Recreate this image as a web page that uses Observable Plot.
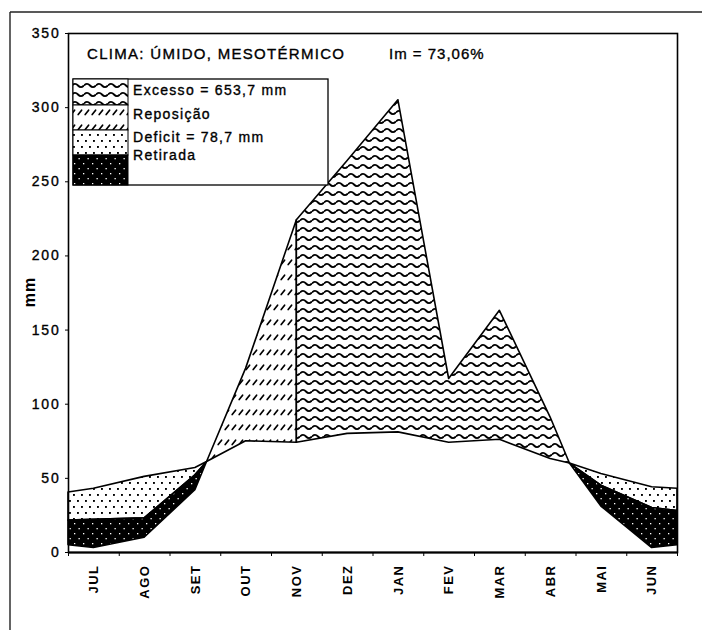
<!DOCTYPE html>
<html>
<head>
<meta charset="utf-8">
<script src="https://cdn.jsdelivr.net/npm/d3@7"></script>
<script src="https://cdn.jsdelivr.net/npm/@observablehq/plot@0.6"></script>
<style>
  body { margin: 0; background: #fff; }
  #chart svg { display: block; }
  #chart text.pesado { stroke: #000; stroke-width: 0.35px; }
</style>
</head>
<body>
<div id="chart"></div>
<script>
// Balanço hídrico climatológico (Thornthwaite & Mather), ano hidrológico JUL–JUN
const meses = ["JUL", "AGO", "SET", "OUT", "NOV", "DEZ", "JAN", "FEV", "MAR", "ABR", "MAI", "JUN"];

// Posição ao longo do ano (em meses desde o início de JUL): bordas, meio de cada mês
// e os dois cruzamentos P = ETP (fim de SET e fim de ABR)
const posicao = [0, 0.5, 1.5, 2.5, 2.73, 3.5, 4.5, 5.5, 6.5, 7.5, 8.5, 9.5, 9.88, 10.5, 11.5, 12];
// Precipitação (mm)
const precipitacao = [5, 3, 10, 42, 61, 124, 224, 264, 305, 117, 163, 91, 60, 31, 3, 5];
// Evapotranspiração potencial (mm)
const etp = [40.5, 43, 51, 57, 61, 75, 74, 80, 81, 74, 76, 63, 60, 53, 44, 43];
// Evapotranspiração real (mm)
const etr = [21.5, 22, 23, 52, 61, 75, 74, 80, 81, 74, 76, 63, 60, 45, 30, 28];

// Limites das fases do balanço, em meses
const cruzaSetOut = 2.73;   // P passa a superar a ETP
const inicioExcesso = 4.5;  // solo na capacidade de campo
const cruzaAbrMai = 9.88;   // P volta a ficar abaixo da ETP

const ticksY = [0, 50, 100, 150, 200, 250, 300, 350];
const limitesMeses = [0, 1, 2, 3, 4, 5, 6, 7, 8, 9, 10, 11, 12];
const centrosMeses = meses.map((m, i) => i + 0.5);

const titulo = "CLIMA: ÚMIDO, MESOTÉRMICO";
const indiceUmidade = "Im = 73,06%";
const rotuloY = "mm";
const legenda = [
  { nome: "Excesso = 653,7 mm", padrao: "p-excesso" },
  { nome: "Reposição", padrao: "p-reposicao" },
  { nome: "Deficit = 78,7 mm", padrao: "p-deficit" },
  { nome: "Retirada", padrao: "p-retirada" }
];

const linhas = posicao.map((x, i) => ({ x, p: precipitacao[i], etp: etp[i], etr: etr[i] }));
const seca1 = linhas.filter(d => d.x <= cruzaSetOut);
const reposicao = linhas.filter(d => d.x >= cruzaSetOut && d.x <= inicioExcesso);
const excesso = linhas.filter(d => d.x >= inicioExcesso && d.x <= cruzaAbrMai);
const seca2 = linhas.filter(d => d.x >= cruzaAbrMai);

// Hachuras em preto e branco
function hachuras() {
  const defs = d3.create("svg:defs");
  const pat = (id, w, h, bg) => {
    const p = defs.append("pattern").attr("id", id).attr("patternUnits", "userSpaceOnUse")
      .attr("width", w).attr("height", h);
    p.append("rect").attr("width", w).attr("height", h).attr("fill", bg);
    return p;
  };
  // ondas
  pat("p-excesso", 12, 9, "#fff").append("path")
    .attr("d", "M0,4.5 Q3,1.2 6,4.5 T12,4.5")
    .attr("fill", "none").attr("stroke", "#000").attr("stroke-width", 1.9);
  // traços inclinados
  pat("p-reposicao", 7, 15, "#fff").append("path")
    .attr("d", "M1.2,9.5 L4.6,5.2")
    .attr("stroke", "#000").attr("stroke-width", 1.7).attr("stroke-linecap", "round");
  // pontilhado
  const d = pat("p-deficit", 8, 12, "#fff");
  d.append("rect").attr("x", 1).attr("y", 2).attr("width", 1.9).attr("height", 1.9).attr("fill", "#000");
  d.append("rect").attr("x", 5).attr("y", 8).attr("width", 1.9).attr("height", 1.9).attr("fill", "#000");
  // preto com pontos brancos
  const r = pat("p-retirada", 9, 10, "#000");
  r.append("rect").attr("x", 2).attr("y", 3).attr("width", 1.3).attr("height", 1.3).attr("fill", "#fff");
  r.append("rect").attr("x", 6.5).attr("y", 8).attr("width", 1.3).attr("height", 1.3).attr("fill", "#fff");
  return defs.node();
}

const area = (dados, y1, y2, padrao) => Plot.areaY(dados, {
  x: "x", y1, y2, fill: `url(#${padrao})`, stroke: "#000", strokeWidth: 1.6, strokeLinejoin: "round"
});

const chart = Plot.plot({
  width: 702,
  height: 630,
  marginLeft: 68,
  marginRight: 25,
  marginTop: 33,
  marginBottom: 78,
  style: { fontFamily: "'Liberation Sans', Arial, sans-serif", fontSize: "14px", background: "#fff", color: "#000" },
  x: { domain: [0, 12] },
  y: { domain: [0, 350] },
  marks: [
    hachuras,
    area(seca1, "etr", "etp", "p-deficit"),
    area(seca1, "p", "etr", "p-retirada"),
    area(seca2, "etr", "etp", "p-deficit"),
    area(seca2, "p", "etr", "p-retirada"),
    area(reposicao, "etp", "p", "p-reposicao"),
    area(excesso, "etp", "p", "p-excesso"),
    Plot.frame({ stroke: "#000", strokeWidth: 1.6 }),
    Plot.ruleY([0], { stroke: "#000", strokeWidth: 2 }),
    Plot.axisY({ ticks: ticksY, tickSize: 3, tickPadding: 5, label: null, fontSize: 14 }),
    Plot.axisX({ ticks: limitesMeses, tickSize: 4, tickFormat: () => "", label: null }),
    Plot.axisX({
      ticks: centrosMeses, tickSize: 0, tickPadding: 12, tickRotate: -90,
      tickFormat: (d, i) => meses[i], label: null, fontSize: 13, fontWeight: "bold"
    })
  ]
});

document.getElementById("chart").appendChild(chart);

const svg = d3.select(chart);
svg.selectAll('g[aria-label="y-axis tick label"] text')
  .classed("pesado", true).style("letter-spacing", "1.8px");
svg.selectAll('g[aria-label="x-axis tick label"] text').style("letter-spacing", "1.5px");

// Moldura externa
svg.append("line").attr("x1", 10).attr("x2", 702).attr("y1", 12).attr("y2", 12)
  .attr("stroke", "#222").attr("stroke-width", 1.4);
svg.append("line").attr("x1", 10).attr("x2", 10).attr("y1", 12).attr("y2", 630)
  .attr("stroke", "#222").attr("stroke-width", 1.4);

// Título e índice de umidade
svg.append("text").attr("class", "pesado").attr("x", 87).attr("y", 59).attr("text-anchor", "start")
  .text(titulo).attr("font-size", 15).style("letter-spacing", "1.3px");
svg.append("text").attr("class", "pesado").attr("x", 389).attr("y", 59).attr("text-anchor", "start")
  .text(indiceUmidade).attr("font-size", 15).style("letter-spacing", "1px");

// Rótulo do eixo Y
svg.append("text").attr("transform", "translate(35,292) rotate(-90)")
  .attr("text-anchor", "middle").attr("font-size", 16).attr("font-weight", "bold")
  .style("letter-spacing", "1px").text(rotuloY);

// Legenda
const legX = 73, legY = 79, legW = 255, swW = 55;
const swH = [26, 25, 25, 30];
const baseTexto = [95, 119, 142, 160];
const gl = svg.append("g");
const totalH = d3.sum(swH);
gl.append("rect").attr("x", legX).attr("y", legY).attr("width", legW).attr("height", totalH)
  .attr("fill", "#fff").attr("stroke", "#000").attr("stroke-width", 1.3);
let yAcum = legY;
legenda.forEach((item, i) => {
  gl.append("rect").attr("x", legX).attr("y", yAcum).attr("width", swW).attr("height", swH[i])
    .attr("fill", `url(#${item.padrao})`).attr("stroke", "#000").attr("stroke-width", 1);
  gl.append("text").attr("class", "pesado").attr("x", legX + swW + 5).attr("y", baseTexto[i])
    .attr("text-anchor", "start").text(item.nome).attr("font-size", 14).style("letter-spacing", "1.3px");
  yAcum += swH[i];
});
</script>
</body>
</html>
